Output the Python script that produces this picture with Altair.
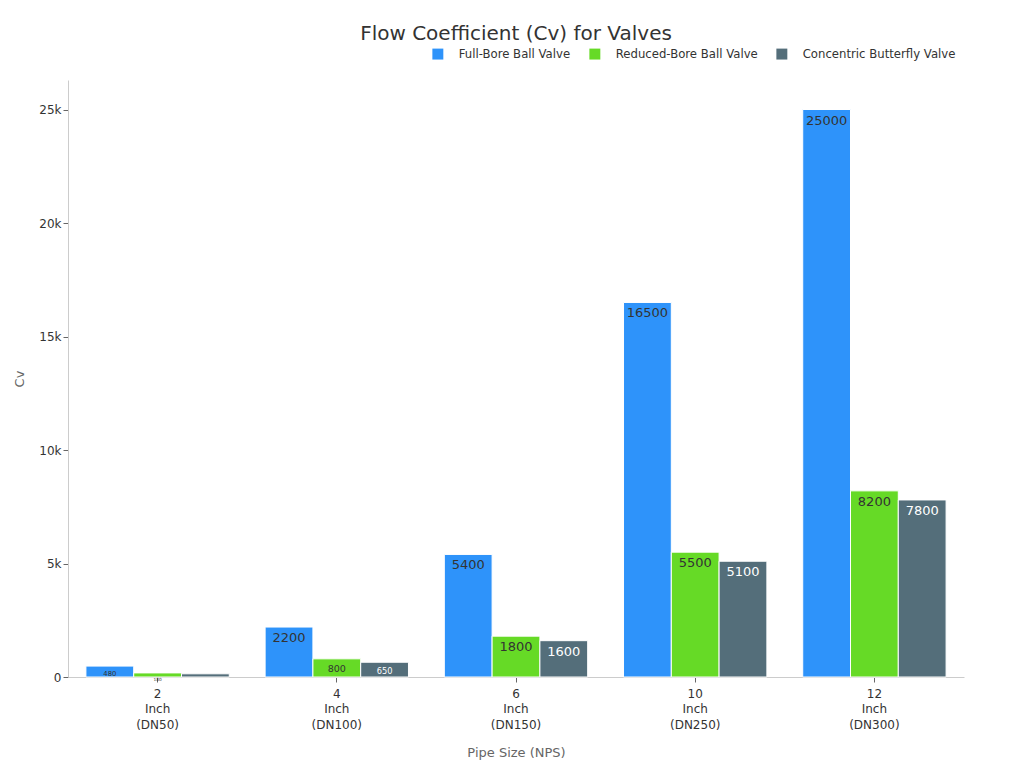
import altair as alt
import pandas as pd

sizes = ["2 Inch (DN50)", "4 Inch (DN100)", "6 Inch (DN150)", "10 Inch (DN250)", "12 Inch (DN300)"]
series = ["Full-Bore Ball Valve", "Reduced-Bore Ball Valve", "Concentric Butterfly Valve"]
full_bore = [480, 2200, 5400, 16500, 25000]
reduced_bore = [180, 800, 1800, 5500, 8200]
butterfly = [140, 650, 1600, 5100, 7800]
colors = ["#2E93FA", "#66DA26", "#546E7A"]
label_colors = ["#333333", "#333333", "#FFFFFF"]

rows = []
for s, vals in zip(series, [full_bore, reduced_bore, butterfly]):
    for c, v in zip(sizes, vals):
        rows.append({"size": c, "series": s, "value": v})
df = pd.DataFrame(rows)

x = alt.X("size:N", sort=sizes, title="Pipe Size (NPS)",
          scale=alt.Scale(paddingInner=0.2, paddingOuter=0.1),
          axis=alt.Axis(labelAngle=0, labelExpr="split(datum.label, ' ')",
                        labelFontSize=12, labelColor="#333", labelLineHeight=15.5,
                        titleFontSize=13, titleColor="#666", titleFontWeight="normal",
                        titlePadding=16, domainColor="#ccc", tickColor="#666",
                        tickSize=5, labelPadding=6))
xo = alt.XOffset("series:N", sort=series, scale=alt.Scale(paddingInner=0))
y = alt.Y("value:Q", title="Cv", scale=alt.Scale(domain=[0, 26300], nice=False),
          axis=alt.Axis(values=[0, 5000, 10000, 15000, 20000, 25000],
                        labelExpr="datum.value == 0 ? '0' : (datum.value/1000) + 'k'",
                        grid=False, labelFontSize=12, labelColor="#333",
                        titleFontSize=13, titleColor="#666", titleFontWeight="normal",
                        domainColor="#ccc", tickColor="#666", tickSize=5,
                        titlePadding=12))

bars = alt.Chart(df).mark_bar(stroke="white", strokeWidth=1).encode(
    x=x, xOffset=xo, y=y,
    color=alt.Color("series:N", sort=series,
                    scale=alt.Scale(domain=series, range=colors),
                    legend=alt.Legend(title=None, orient="none", direction="horizontal",
                                      legendX=364, legendY=-32, symbolType="square",
                                      symbolSize=120, labelFontSize=11.7, labelColor="#333",
                                      columnPadding=18, labelOffset=15, symbolStrokeWidth=0)),
)

labels = alt.Chart(df).mark_text(baseline="top", dy=5).encode(
    x=x, xOffset=xo, y=y,
    text=alt.Text("value:Q", format="d"),
    color=alt.Color("series:N", sort=series,
                    scale=alt.Scale(domain=series, range=label_colors), legend=None),
    size=alt.Size("value:Q", scale=alt.Scale(domain=[150, 1200], range=[4, 13], clamp=True),
                  legend=None),
)

chart = alt.layer(bars, labels).resolve_scale(color="independent").properties(
    width=896, height=597,
    padding={"top": 16, "left": 5, "right": 5, "bottom": 5},
    title=alt.TitleParams("Flow Coefficient (Cv) for Valves", fontSize=20,
                          fontWeight="normal", color="#333", anchor="middle", offset=4),
).configure(font="DejaVu Sans").configure_view(strokeWidth=0)

chart.save("out.html", embed_options={"renderer": "svg", "actions": False})
